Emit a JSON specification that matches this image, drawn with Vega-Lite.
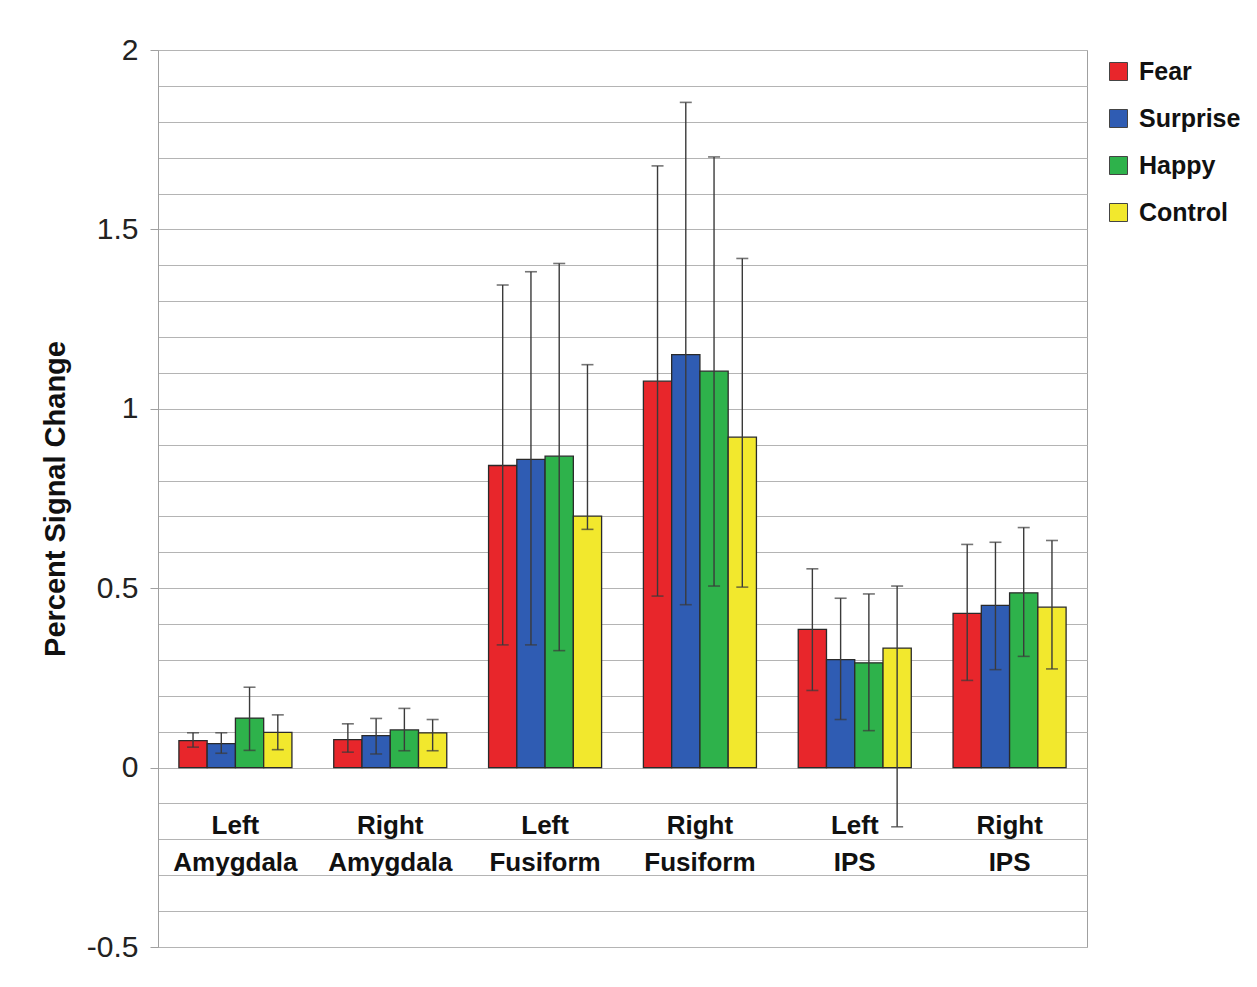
{
  "$schema": "https://vega.github.io/schema/vega-lite/v6.json",
  "width": 929,
  "height": 897,
  "autosize": "none",
  "padding": {"left": 158, "top": 50, "right": 170, "bottom": 40},
  "background": "white",
  "config": {
    "view": {"stroke": "#a0a0a0", "strokeWidth": 1},
    "font": "Liberation Sans"
  },
  "data": {
    "values": [
      {"region": "Left Amygdala", "emotion": "Fear", "value": 0.075, "lo": 0.057, "hi": 0.097},
      {"region": "Left Amygdala", "emotion": "Surprise", "value": 0.067, "lo": 0.04, "hi": 0.097},
      {"region": "Left Amygdala", "emotion": "Happy", "value": 0.138, "lo": 0.048, "hi": 0.224},
      {"region": "Left Amygdala", "emotion": "Control", "value": 0.098, "lo": 0.05, "hi": 0.147},
      {"region": "Right Amygdala", "emotion": "Fear", "value": 0.078, "lo": 0.043, "hi": 0.122},
      {"region": "Right Amygdala", "emotion": "Surprise", "value": 0.089, "lo": 0.038, "hi": 0.137},
      {"region": "Right Amygdala", "emotion": "Happy", "value": 0.105, "lo": 0.047, "hi": 0.165},
      {"region": "Right Amygdala", "emotion": "Control", "value": 0.097, "lo": 0.047, "hi": 0.134},
      {"region": "Left Fusiform", "emotion": "Fear", "value": 0.842, "lo": 0.342, "hi": 1.345},
      {"region": "Left Fusiform", "emotion": "Surprise", "value": 0.859, "lo": 0.342, "hi": 1.382},
      {"region": "Left Fusiform", "emotion": "Happy", "value": 0.868, "lo": 0.326, "hi": 1.405},
      {"region": "Left Fusiform", "emotion": "Control", "value": 0.701, "lo": 0.664, "hi": 1.123},
      {"region": "Right Fusiform", "emotion": "Fear", "value": 1.077, "lo": 0.478, "hi": 1.677},
      {"region": "Right Fusiform", "emotion": "Surprise", "value": 1.151, "lo": 0.454, "hi": 1.854},
      {"region": "Right Fusiform", "emotion": "Happy", "value": 1.105, "lo": 0.506, "hi": 1.702},
      {"region": "Right Fusiform", "emotion": "Control", "value": 0.921, "lo": 0.503, "hi": 1.419},
      {"region": "Left IPS", "emotion": "Fear", "value": 0.385, "lo": 0.215, "hi": 0.554},
      {"region": "Left IPS", "emotion": "Surprise", "value": 0.301, "lo": 0.134, "hi": 0.472},
      {"region": "Left IPS", "emotion": "Happy", "value": 0.292, "lo": 0.103, "hi": 0.484},
      {"region": "Left IPS", "emotion": "Control", "value": 0.333, "lo": -0.165, "hi": 0.506},
      {"region": "Right IPS", "emotion": "Fear", "value": 0.430, "lo": 0.243, "hi": 0.622},
      {"region": "Right IPS", "emotion": "Surprise", "value": 0.452, "lo": 0.273, "hi": 0.628},
      {"region": "Right IPS", "emotion": "Happy", "value": 0.487, "lo": 0.310, "hi": 0.669},
      {"region": "Right IPS", "emotion": "Control", "value": 0.447, "lo": 0.275, "hi": 0.633}
    ]
  },
  "encoding": {
    "x": {
      "field": "region",
      "type": "nominal",
      "sort": ["Left Amygdala", "Right Amygdala", "Left Fusiform", "Right Fusiform", "Left IPS", "Right IPS"],
      "scale": {"paddingInner": 0.27, "paddingOuter": 0.135},
      "axis": {
        "title": null,
        "orient": "bottom",
        "offset": -141,
        "domain": false,
        "ticks": false,
        "labelAngle": 0,
        "labelPadding": 6,
        "labelExpr": "split(datum.label, ' ')",
        "labelFontSize": 26,
        "labelFontWeight": "bold",
        "labelColor": "#111111",
        "labelLineHeight": 37,
        "labelFont": "Liberation Sans"
      }
    },
    "xOffset": {
      "field": "emotion",
      "type": "nominal",
      "sort": ["Fear", "Surprise", "Happy", "Control"],
      "scale": {"paddingInner": 0, "paddingOuter": 0}
    }
  },
  "layer": [
    {
      "mark": {"type": "bar", "stroke": "#2a2a2a", "strokeWidth": 1.3},
      "encoding": {
        "y": {
          "field": "value",
          "type": "quantitative",
          "scale": {"domain": [-0.5, 2], "nice": false, "zero": false},
          "axis": {
            "title": "Percent Signal Change",
            "titleFontSize": 29,
            "titleFontWeight": "bold",
            "titleColor": "#111111",
            "titlePadding": 16,
            "tickCount": 100,
            "values": [-0.5, -0.4, -0.3, -0.2, -0.1, 0, 0.1, 0.2, 0.3, 0.4, 0.5, 0.6, 0.7, 0.8, 0.9, 1, 1.1, 1.2, 1.3, 1.4, 1.5, 1.6, 1.7, 1.8, 1.9, 2],
            "labelExpr": "abs(datum.value*2 - round(datum.value*2)) < 0.001 ? toString(datum.value) : ''",
            "labelOverlap": false,
            "labelFlush": false,
            "labelFontSize": 30,
            "labelColor": "#222222",
            "labelPadding": 12,
            "tickSize": 8,
            "tickColor": "#a0a0a0",
            "tickOpacity": {"condition": {"test": "abs(datum.value*2 - round(datum.value*2)) < 0.001", "value": 1}, "value": 0},
            "domainColor": "#a0a0a0",
            "gridColor": "#b4b4b4",
            "gridWidth": 1,
            "gridOpacity": 1
          }
        },
        "color": {
          "field": "emotion",
          "type": "nominal",
          "scale": {
            "domain": ["Fear", "Surprise", "Happy", "Control"],
            "range": ["#e8262b", "#2f5cb3", "#2eb24b", "#f2e82d"]
          },
          "legend": {
            "title": null,
            "orient": "right",
            "offset": 10,
            "padding": 9,
            "symbolType": "square",
            "symbolSize": 324,
            "symbolStrokeColor": "#444444",
            "symbolStrokeWidth": 1,
            "symbolOpacity": 1,
            "labelFontSize": 25,
            "labelFontWeight": "bold",
            "labelColor": "#111111",
            "labelOffset": 8,
            "rowPadding": 21
          }
        }
      }
    },
    {
      "mark": {"type": "rule", "color": "#3a3a3a", "strokeWidth": 1.4},
      "encoding": {
        "y": {"field": "lo", "type": "quantitative"},
        "y2": {"field": "hi"}
      }
    },
    {
      "mark": {"type": "tick", "color": "#3a3a3a", "size": 12, "thickness": 1.6},
      "encoding": {
        "y": {"field": "hi", "type": "quantitative"}
      }
    },
    {
      "mark": {"type": "tick", "color": "#3a3a3a", "size": 12, "thickness": 1.6},
      "encoding": {
        "y": {"field": "lo", "type": "quantitative"}
      }
    }
  ]
}
